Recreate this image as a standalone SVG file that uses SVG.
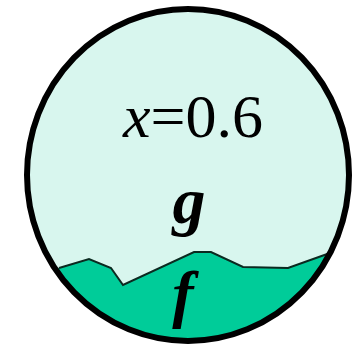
<svg xmlns="http://www.w3.org/2000/svg" width="364" height="349" viewBox="0 0 364 349">
<style>
.t{font-family:"Liberation Serif","Times New Roman",serif;fill:#000}
</style>
<defs>
<clipPath id="c"><ellipse cx="188" cy="175" rx="161" ry="166"/></clipPath>
</defs>
<rect width="364" height="349" fill="#fff"/>
<g id="ball">
<ellipse cx="188" cy="175" rx="161" ry="166" fill="#d8f6ee"/>
<g clip-path="url(#c)">
<polygon points="59,268 89,259 111,268 123,285 194,252 211,252 243,267 288,268 330,253 360,240 360,349 20,349 20,268" fill="#00cc99"/>
<polyline points="59,268 89,259 111,268 123,285 194,252 211,252 243,267 288,268 330,253" fill="none" stroke="#0b2a20" stroke-width="2" stroke-linejoin="miter"/>
</g>
<ellipse cx="188" cy="175" rx="161" ry="166" fill="none" stroke="#000" stroke-width="6"/>
</g>
<g id="label-x">
<text class="t" x="193" y="137" font-size="62" text-anchor="middle"><tspan font-style="italic">x</tspan>=0.6</text>
</g>
<g id="label-g">
<text class="t" x="189" y="223" font-size="66" font-style="italic" font-weight="bold" text-anchor="middle">g</text>
</g>
<g id="label-f">
<text class="t" x="183" y="315" font-size="64" font-style="italic" font-weight="bold" text-anchor="middle">f</text>
</g>
</svg>
